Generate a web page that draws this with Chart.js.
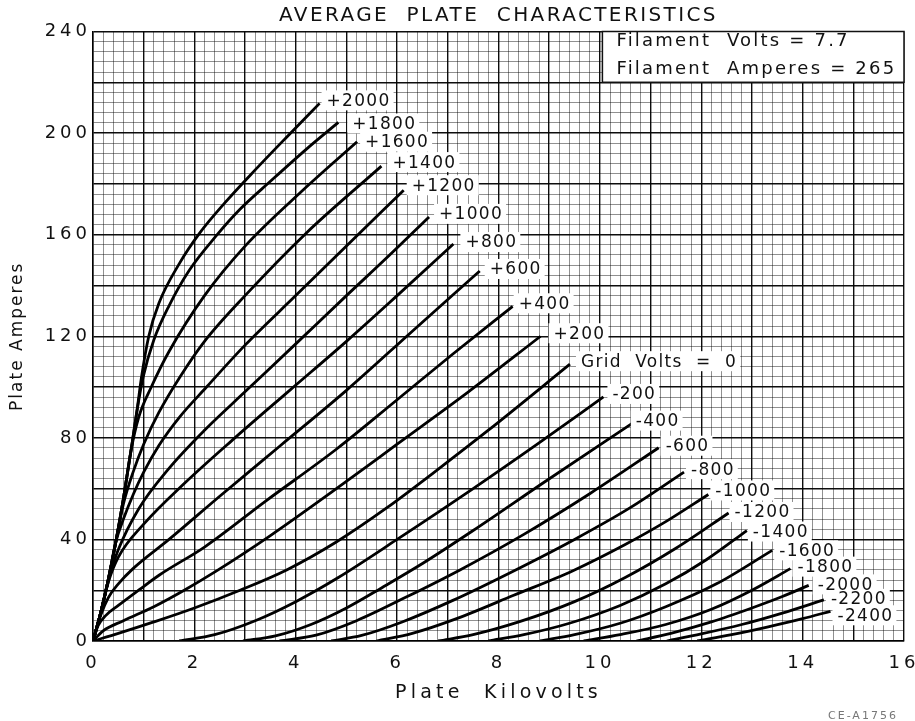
<!DOCTYPE html>
<html><head><meta charset="utf-8">
<script src="https://cdn.jsdelivr.net/npm/chart.js@4.4.1/dist/chart.umd.min.js"></script>
<style>html,body{margin:0;padding:0;background:#fff;}</style>
</head><body>
<canvas id="c" width="915" height="721"></canvas>
<script>
// ---- data (Plate kV, Plate A) ----
const curveLabels = ['+2000','+1800','+1600','+1400','+1200','+1000','+800','+600','+400','+200','Grid  Volts  =  0',
  '-200','-400','-600','-800','-1000','-1200','-1400','-1600','-1800','-2000','-2200','-2400'];
const P2000 = [[0,0],[0.15,11],[0.3,24],[0.45,39],[0.6,56],[0.75,75],[0.87,91],[0.95,103],[1.1,120],[1.3,133],[1.7,148.5],[2.1,160.5],[2.6,172.5],[3.2,185.5],[3.8,198],[4.47,211.7]];
const P1800 = [[0,0],[0.15,11],[0.3,24],[0.45,39],[0.6,56],[0.75,75],[0.87,91],[0.99,104],[1.2,118.5],[1.5,132],[1.9,146],[2.45,160],[2.9,170],[3.5,181],[4.2,193.5],[4.84,204.2]];
const P1600 = [[0,0],[0.15,11],[0.3,24],[0.45,39],[0.6,56],[0.75,75],[0.9,88],[1.15,100],[1.5,114],[2.2,136],[3.0,155.5],[4.14,177.5],[5.21,196.6]];
const P1400 = [[0,0],[0.15,11],[0.3,24],[0.45,39],[0.6,54],[0.8,67],[1.0,77.5],[1.3,90],[1.7,103.5],[2.2,118],[3.0,136],[4.2,160.5],[5.69,187]];
const P1200 = [[0,0],[0.15,11],[0.3,24],[0.45,39],[0.6,48],[0.8,58],[1.0,66.5],[1.3,77],[1.7,88],[2.24,100],[3.0,116.5],[4.0,136],[5.0,155.5],[6.13,177.5]];
const P1000 = [[0,0],[0.15,11],[0.35,27],[0.5,36],[0.9,52],[1.5,68],[2.2,83],[3.03,98.7],[4.0,117],[5.0,136],[5.8,151],[6.63,167]];
const P800  = [[0,0],[0.15,11],[0.3,23],[0.5,33],[1.0,46],[1.8,62],[2.8,80],[3.88,98.7],[5.0,118],[6.0,136],[7.11,156.3]];
const P600  = [[0,0],[0.15,10],[0.3,17],[0.5,22.5],[0.79,28.5],[1.5,40],[2.5,57],[3.7,77],[5.0,98.7],[6.3,122],[7.63,145.7]];
const P400  = [[0,0],[0.1,6],[0.25,10],[0.5,14],[0.9,20],[1.31,26],[2.2,37],[3.4,55],[4.8,75.5],[6.0,95],[7.1,113],[8.28,131.8]];
const P200  = [[0,0],[0.2,4],[0.6,8],[1.2,13.5],[1.8,20],[2.43,27.5],[3.5,41.5],[4.7,58.5],[6.0,77.5],[7.4,98],[8.83,120]];
const P0    = [[0,0],[0.5,3],[1.2,7.5],[2.0,13],[2.9,20],[3.82,28],[4.8,39],[5.8,52.5],[6.8,67.5],[7.8,83],[9.41,109]];
const N200  = [[1.70,0],[2.4,2.5],[3.2,8],[4.0,15.5],[4.84,25],[6.0,40],[7.5,60],[8.8,78],[10.07,96.1]];
const N400  = [[2.96,0],[3.6,2],[4.3,6.5],[5.0,13],[5.7,21],[6.5,30.5],[7.5,43.5],[8.9,62.5],[10.63,85.6]];
const N600  = [[3.68,0],[4.4,2.3],[5.2,8],[6.2,17.5],[7.24,28],[8.5,42],[9.8,58],[11.16,76.1]];
const N800  = [[4.70,0],[5.3,2.2],[6.1,7.5],[7.1,16],[8.29,27.5],[9.5,40],[10.6,52.5],[11.66,66.5]];
const N1000 = [[5.59,0],[6.3,3],[7.2,9],[8.3,18],[9.48,27.8],[10.5,38],[11.3,47],[12.14,57.7]];
const N1200 = [[6.81,0],[7.5,2.5],[8.4,7.5],[9.5,15.5],[10.5,25],[11.5,36.5],[12.54,50.4]];
const N1400 = [[7.80,0],[8.5,2.5],[9.4,7],[10.4,14],[11.3,22.5],[12.1,32],[12.90,43.5]];
const N1600 = [[8.82,0],[9.5,2.5],[10.4,7],[11.3,13.5],[12.3,22.5],[13.40,35.7]];
const N1800 = [[9.68,0],[10.4,2.5],[11.3,6.5],[12.2,12.5],[13.0,20],[13.76,28.5]];
const N2000 = [[10.72,0],[11.4,3],[12.2,7.5],[13.0,13],[13.6,17.5],[14.12,21.9]];
const N2200 = [[11.32,0],[12.0,2.8],[12.8,6.5],[13.6,11],[14.42,16.2]];
const N2400 = [[11.92,0],[12.6,2.5],[13.3,5.5],[14.0,8.8],[14.55,11.7]];
const curves = [P2000,P1800,P1600,P1400,P1200,P1000,P800,P600,P400,P200,P0,
  N200,N400,N600,N800,N1000,N1200,N1400,N1600,N1800,N2000,N2200,N2400];
const filamentText = ['Filament  Volts = 7.7','Filament  Amperes = 265'];
const titleText = 'AVERAGE  PLATE  CHARACTERISTICS';
const xTitle = 'Plate  Kilovolts';
const yTitle = 'Plate Amperes';
const codeText = 'CE-A1756';

// style: label offsets (px) from each curve's end
const labelDx = [7,14,8,11,8,10,12,10,6,13,11, 9,4,7,7,7,6,6,7,7,9,7,7];
const labelDy = [-3,1,0,-4,-5,-3,-2,-2,-3,-3,-3, -3,-3,-2,-3,-4,-1,1,0,-2,-1,-1,4];

const FONT = '"DejaVu Sans", sans-serif';

function withSpacing(obj, method, ls){
  if (!obj || obj['_ls_' + method]) return;
  const orig = obj[method];
  obj[method] = function(...a){
    const c = this.ctx || obj.ctx; const prev = c.letterSpacing;
    c.letterSpacing = ls; const r = orig.apply(this, a); c.letterSpacing = prev; return r;
  };
  obj['_ls_' + method] = true;
}
const spacingPlugin = {
  id: 'spacing',
  beforeLayout(chart){ chart.ctx.letterSpacing = '4px'; },
  afterUpdate(chart){
    withSpacing(chart.scales.x, 'drawTitle', '4.2px');
    withSpacing(chart.scales.y, 'drawTitle', '2px');
    withSpacing(chart.titleBlock, 'draw', '2.4px');
  },
  beforeDraw(chart){ chart.ctx.letterSpacing = '4px'; }
};

const labelPlugin = {
  id: 'curveLabels',
  afterDatasetsDraw(chart){
    const ctx = chart.ctx, xs = chart.scales.x, ys = chart.scales.y;
    ctx.save();
    ctx.letterSpacing = '1.3px';
    ctx.font = '17px ' + FONT;
    ctx.textBaseline = 'middle';
    ctx.textAlign = 'left';
    const items = chart.data.datasets.map((ds, i) => {
      const last = ds.data[ds.data.length - 1];
      const px = xs.getPixelForValue(last.x), py = ys.getPixelForValue(last.y);
      const t = curveLabels[i];
      return {t, x: px + labelDx[i], y: py + labelDy[i], w: ctx.measureText(t).width};
    });
    ctx.fillStyle = '#fff';
    items.forEach(it => ctx.fillRect(it.x - 5, it.y - 10, it.w + 8, 20));
    ctx.fillStyle = '#111';
    items.forEach(it => ctx.fillText(it.t, it.x, it.y + 1));
    // filament box
    const x0 = xs.getPixelForValue(10.05), x1 = xs.getPixelForValue(16);
    const y0 = ys.getPixelForValue(240), y1 = ys.getPixelForValue(220);
    ctx.fillStyle = '#fff';
    ctx.fillRect(x0, y0, x1 - x0, y1 - y0);
    ctx.strokeStyle = '#111'; ctx.lineWidth = 1.5;
    ctx.strokeRect(x0, y0, x1 - x0, y1 - y0);
    ctx.fillStyle = '#111';
    ctx.font = '18px ' + FONT;
    ctx.letterSpacing = '2.2px';
    ctx.fillText(filamentText[0], x0 + 14, y0 + 9.5);
    ctx.fillText(filamentText[1], x0 + 14, y0 + 37.5);
    // drawing code
    ctx.font = '11px ' + FONT;
    ctx.letterSpacing = '2px';
    ctx.fillStyle = '#777';
    ctx.fillText(codeText, 828, 716);
    ctx.restore();
  }
};

const minorC = 'rgba(0,0,0,0.55)', majorC = 'rgba(0,0,0,0.95)';
new Chart(document.getElementById('c'), {
  type: 'scatter',
  data: {
    datasets: curves.map((c, i) => ({
      label: curveLabels[i],
      data: c.map(p => ({x: p[0], y: p[1]})),
      showLine: true,
      pointRadius: 0,
      borderColor: '#000',
      borderWidth: 2.8,
      cubicInterpolationMode: 'monotone'
    }))
  },
  options: {
    responsive: false,
    devicePixelRatio: 1,
    animation: false,
    layout: {padding: {top: 0, left: 0, right: 11, bottom: 0}},
    plugins: {
      legend: {display: false},
      tooltip: {enabled: false},
      title: {display: true, text: titleText, color: '#111', fullSize: false,
        font: {family: FONT, size: 20, weight: 'normal'}, padding: {top: 4, bottom: 3.5}}
    },
    scales: {
      x: {
        type: 'linear', min: 0, max: 16,
        afterFit(s){ s.height = 80; s.paddingLeft = 0; s.paddingRight = 0; },
        border: {display: true, color: '#000', width: 1.5},
        grid: {drawTicks: false,
          color: c => (Math.round(c.tick.value * 5) % 5 === 0 ? majorC : minorC),
          lineWidth: c => (Math.round(c.tick.value * 5) % 5 === 0 ? 1.4 : 0.8)},
        ticks: {stepSize: 0.2, autoSkip: false, maxRotation: 0, padding: 12, color: '#111',
          font: {family: FONT, size: 18},
          callback: v => (Math.round(v * 5) % 10 === 0 ? String(Math.round(v)) : '')},
        title: {display: true, text: xTitle, color: '#111', font: {family: FONT, size: 19},
          padding: {top: 0, bottom: 17}}
      },
      y: {
        type: 'linear', min: 0, max: 240,
        afterFit(s){ s.width = 93; },
        border: {display: true, color: '#000', width: 1.5},
        grid: {drawTicks: false,
          color: c => (Math.round(c.tick.value) % 20 === 0 ? majorC : minorC),
          lineWidth: c => (Math.round(c.tick.value) % 20 === 0 ? 1.4 : 0.8)},
        ticks: {stepSize: 4, autoSkip: false, padding: 2, color: '#111',
          font: {family: FONT, size: 18},
          callback: v => (Math.round(v) % 40 === 0 ? String(Math.round(v)) : '')},
        title: {display: true, text: yTitle, color: '#111', font: {family: FONT, size: 17},
          padding: {top: 7, bottom: 0}}
      }
    }
  },
  plugins: [spacingPlugin, labelPlugin]
});
</script>
</body></html>
